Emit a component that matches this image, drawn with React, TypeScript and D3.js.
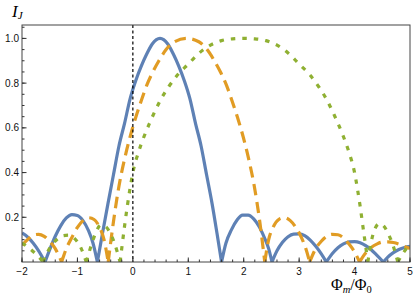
import React from "react";
import * as d3 from "d3";

// values: [flux, current]
const blueSeries: [number, number][] = [
  [-2.0, 0.13], [-1.9, 0.112], [-1.8, 0.085], [-1.7, 0.05], [-1.585, 0],
  [-1.5, 0.055], [-1.4, 0.115], [-1.3, 0.163], [-1.2, 0.197], [-1.1, 0.212], [-1.0, 0.208],
  [-0.9, 0.185], [-0.8, 0.14], [-0.72, 0.085], [-0.64, 0],
  [-0.55, 0.125], [-0.45, 0.26], [-0.35, 0.39], [-0.25, 0.52], [-0.15, 0.62], [-0.05, 0.73],
  [0.05, 0.81], [0.15, 0.875], [0.25, 0.93], [0.35, 0.975], [0.49, 1.0], [0.63, 0.975],
  [0.73, 0.93], [0.83, 0.875], [0.93, 0.81], [1.03, 0.73], [1.13, 0.62], [1.23, 0.52],
  [1.33, 0.39], [1.43, 0.26], [1.52, 0.125], [1.6, 0],
  [1.68, 0.085], [1.78, 0.145], [1.88, 0.188], [1.98, 0.21], [2.08, 0.21], [2.18, 0.193],
  [2.28, 0.158], [2.38, 0.105], [2.45, 0.06], [2.51, 0],
  [2.6, 0.05], [2.7, 0.088], [2.8, 0.113], [2.9, 0.125], [3.0, 0.126], [3.1, 0.118],
  [3.2, 0.098], [3.3, 0.07], [3.4, 0.036], [3.49, 0],
  [3.6, 0.038], [3.7, 0.064], [3.8, 0.081], [3.9, 0.09], [4.0, 0.091], [4.1, 0.086],
  [4.2, 0.073], [4.3, 0.055], [4.4, 0.031], [4.52, 0],
  [4.6, 0.022], [4.7, 0.042], [4.8, 0.056], [4.9, 0.065], [5.0, 0.07],
];

const orangeSeries: [number, number][] = [
  [-2.0, 0.075], [-1.9, 0.1], [-1.8, 0.12], [-1.7, 0.124], [-1.6, 0.115], [-1.5, 0.093],
  [-1.4, 0.06], [-1.285, 0],
  [-1.2, 0.06], [-1.1, 0.11], [-1.0, 0.155], [-0.9, 0.185], [-0.8, 0.198], [-0.7, 0.19],
  [-0.6, 0.155], [-0.52, 0.1], [-0.445, 0],
  [-0.35, 0.18], [-0.25, 0.34], [-0.15, 0.46], [-0.05, 0.56], [0.05, 0.645], [0.15, 0.72],
  [0.25, 0.79], [0.35, 0.845], [0.47, 0.9], [0.6, 0.95], [0.75, 0.985], [0.97, 1.0],
  [1.19, 0.985], [1.34, 0.95], [1.47, 0.9], [1.59, 0.845], [1.69, 0.79], [1.79, 0.72],
  [1.89, 0.645], [1.99, 0.56], [2.09, 0.46], [2.19, 0.34], [2.29, 0.18], [2.38, 0],
  [2.45, 0.1], [2.53, 0.155], [2.63, 0.19], [2.74, 0.198], [2.84, 0.185], [2.94, 0.155],
  [3.04, 0.11], [3.12, 0.06], [3.19, 0],
  [3.3, 0.06], [3.4, 0.093], [3.5, 0.115], [3.6, 0.124], [3.7, 0.122], [3.8, 0.108],
  [3.9, 0.08], [4.0, 0.045], [4.09, 0],
  [4.2, 0.04], [4.3, 0.065], [4.4, 0.08], [4.5, 0.089], [4.6, 0.09], [4.7, 0.087],
  [4.8, 0.08], [4.9, 0.07], [5.0, 0.06],
];

const greenSeries: [number, number][] = [
  [-2.0, 0.085], [-1.9, 0.068], [-1.8, 0.047], [-1.7, 0.024], [-1.62, 0],
  [-1.55, 0.04], [-1.45, 0.08], [-1.35, 0.105], [-1.25, 0.118], [-1.15, 0.12], [-1.05, 0.105],
  [-0.95, 0.07], [-0.84, 0],
  [-0.75, 0.075], [-0.67, 0.13], [-0.58, 0.165], [-0.5, 0.16], [-0.42, 0.135], [-0.34, 0.09],
  [-0.23, 0],
  [-0.15, 0.16], [-0.1, 0.25], [-0.05, 0.33], [0.0, 0.4], [0.1, 0.49], [0.2, 0.56], [0.3, 0.62],
  [0.4, 0.675], [0.5, 0.725], [0.65, 0.785], [0.8, 0.835], [1.0, 0.885], [1.2, 0.935],
  [1.4, 0.97], [1.6, 0.99], [1.8, 0.998], [2.0, 1.0], [2.2, 0.998], [2.4, 0.99], [2.6, 0.97],
  [2.8, 0.935], [3.0, 0.885], [3.2, 0.835], [3.35, 0.785], [3.5, 0.725], [3.6, 0.675],
  [3.7, 0.62], [3.8, 0.56], [3.9, 0.49], [4.0, 0.4], [4.05, 0.33], [4.1, 0.25], [4.15, 0.16],
  [4.24, 0],
  [4.3, 0.09], [4.37, 0.15], [4.45, 0.172], [4.53, 0.16], [4.62, 0.12], [4.7, 0.07], [4.78, 0],
  [4.85, 0.03], [4.92, 0.055], [5.0, 0.076],
];

const xTickLabels = [-2, -1, 0, 1, 2, 3, 4, 5];
const yTickLabels = [0.2, 0.4, 0.6, 0.8, 1.0];

const colors = { blue: "#5e81b5", orange: "#e19c24", green: "#8fb032" };

// split at zeros so the cusps stay sharp
function splitAtZeros(pts: [number, number][]) {
  const segs: [number, number][][] = [];
  let cur: [number, number][] = [];
  pts.forEach((p, i) => {
    cur.push(p);
    if (p[1] === 0 && i > 0 && i < pts.length - 1) {
      segs.push(cur);
      cur = [p];
    }
  });
  if (cur.length > 1) segs.push(cur);
  return segs;
}

export default function App() {
  const width = 416;
  const height = 295;
  const left = 22, right = 410, top = 25, bottom = 262;

  const x = d3.scaleLinear().domain([-2, 5]).range([left, right]);
  const y = d3.scaleLinear().domain([0, 1.06]).range([bottom, top]);

  const line = d3
    .line<[number, number]>()
    .x((d) => x(d[0]))
    .y((d) => y(d[1]))
    .curve(d3.curveMonotoneX);

  const pathFor = (pts: [number, number][]) =>
    splitAtZeros(pts).map((s) => line(s)).join("");

  const xMinor = d3.range(-2, 5.001, 0.2);
  const yMinor = d3.range(0.05, 1.06, 0.05);

  const tickFont = { fontFamily: "Liberation Sans, Arial, sans-serif", fontSize: 10 };

  return (
    <svg
      width={width}
      height={height}
      style={{ position: "absolute", left: 0, top: 0, background: "white" }}
    >
      <defs>
        <clipPath id="plotArea">
          <rect x={left} y={top} width={right - left} height={bottom - top} />
        </clipPath>
      </defs>

      {/* curves */}
      <g clipPath="url(#plotArea)" fill="none" strokeWidth={3.2}>
        <path d={pathFor(blueSeries)} stroke={colors.blue} strokeLinejoin="round" />
        <path d={pathFor(orangeSeries)} stroke={colors.orange} strokeDasharray="11.5,6.5" />
        <path d={pathFor(greenSeries)} stroke={colors.green} strokeDasharray="4.5,7" />
      </g>

      {/* dashed line at 0 */}
      <line
        x1={x(0)}
        x2={x(0)}
        y1={top}
        y2={bottom}
        stroke="black"
        strokeWidth={1.2}
        strokeDasharray="3,2.5"
      />

      {/* frame */}
      <rect
        x={left}
        y={top}
        width={right - left}
        height={bottom - top}
        fill="none"
        stroke="#444"
        strokeWidth={1}
      />

      {/* ticks */}
      <g stroke="#333" strokeWidth={1}>
        {xMinor.map((t) => (
          <line key={"xm" + t} x1={x(t)} x2={x(t)} y1={bottom} y2={bottom - 2.5} />
        ))}
        {xTickLabels.map((t) => (
          <line key={"xM" + t} x1={x(t)} x2={x(t)} y1={bottom} y2={bottom - 4.5} />
        ))}
        {yMinor.map((t) => (
          <line key={"ym" + t} x1={left} x2={left + 2.5} y1={y(t)} y2={y(t)} />
        ))}
        {yTickLabels.map((t) => (
          <line key={"yM" + t} x1={left} x2={left + 4.5} y1={y(t)} y2={y(t)} />
        ))}
      </g>

      <g {...tickFont} fill="#111">
        {xTickLabels.map((t) => (
          <text key={"xl" + t} x={x(t)} y={bottom + 13} textAnchor="middle">
            {t < 0 ? "\u2212" + Math.abs(t) : t}
          </text>
        ))}
        {yTickLabels.map((t) => (
          <text key={"yl" + t} x={left - 3} y={y(t)} dy="0.35em" textAnchor="end">
            {t.toFixed(1)}
          </text>
        ))}
      </g>

      {/* axis labels */}
      <text x={12} y={17} fontFamily="Liberation Serif, serif" fontSize={17} fontStyle="italic">
        I
        <tspan fontSize={11} dy={2}>J</tspan>
      </text>
      <text x={331} y={290} fontFamily="Liberation Serif, serif" fontSize={16}>
        Φ
        <tspan fontSize={10.5} fontStyle="italic" dy={2.5}>m</tspan>
        <tspan dy={-2.5}>/Φ</tspan>
        <tspan fontSize={10.5} dy={2.5}>0</tspan>
      </text>
    </svg>
  );
}
